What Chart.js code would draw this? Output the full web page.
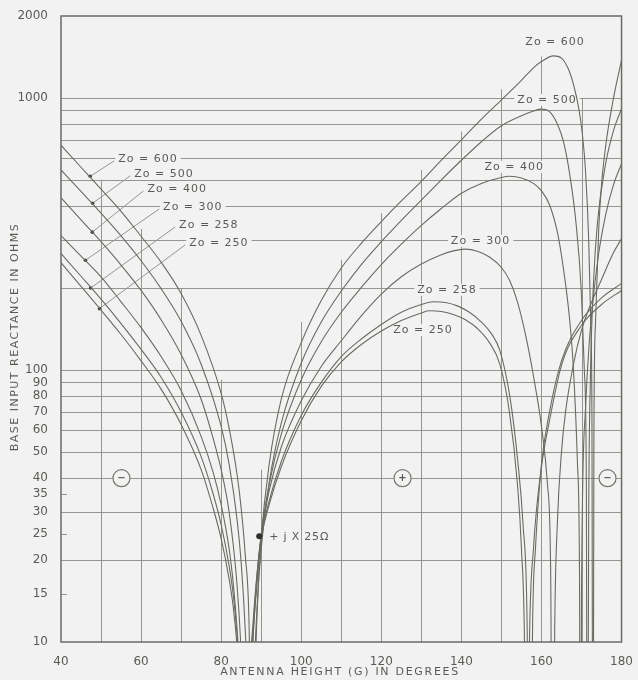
<!DOCTYPE html>
<html>
<head>
<meta charset="utf-8">
<script src="https://cdn.jsdelivr.net/npm/chart.js@4.4.0/dist/chart.umd.min.js"></script>
<style>
html, body { margin: 0; padding: 0; background: #f2f2f2; }
#wrap { width: 638px; height: 680px; }
</style>
</head>
<body>
<div id="wrap"><canvas id="chart-reactance" width="638" height="680"></canvas></div>
<script>
// antenna height G (degrees) and |base reactance| (ohms)
var g600 = [40,45,50,55,60,65,70,75,80,82,84,85,86,87,87.9,88.5,89,90,92,95,100,105,110,115,120,125,130,135,140,145,150,155,158,160,163,165,166.5,168,169.4,170.2,171,171.8,172.3,172.6,172.85,173.1,173.5,174.3,175,176,178,180];
var x600 = [670,556,462,383,310,249,191,134,82,61,41,31,21,11,1,7,13,24,45,78,126,180,237,292,351,418,493,590,701,835,983,1160,1290,1360,1427,1400,1300,1120,900,740,540,300,150,70,1,60,150,330,480,660,1000,1376];

var g500 = [40,45,50,55,60,65,70,75,80,82,84,85,86,86.5,87.35,88,89,90,92,95,100,105,110,115,120,125,130,135,140,145,150,155,158,160,162,164,165.5,167,168.6,169.9,170.7,171.2,171.45,171.8,172.2,173,174,176,178,180];
var x500 = [544,453,377,311,252,199,151,105,62,45,28,19.6,11.2,7.1,1,5.4,13.7,22,38.6,63.6,106,150,195,244,296,355,421,500,590,690,790,860,895,909,890,800,690,530,350,200,100,40,1,30,90,210,350,570,760,913];

var g400 = [40,45,50,55,60,65,70,75,78,80,82,84,85,86,86.5,87,88,89,90,92,95,100,105,110,115,120,125,130,135,140,145,150,152,155,158,160,162,164,165.5,167,168,169,169.5,169.75,170,171,172,174,176,178,180];
var x400 = [430,356,296,243,196,153,114,78,56,43,30,16,9,3,1,4,11,18,25,38,58,92,127,163,201,244,290,340,392,446,485,510,515,508,485,455,405,320,235,155,100,45,18,1,15,72,130,250,370,480,573];

var g300 = [40,45,50,55,60,65,70,75,78,80,82,83,84,85,86.2,87,88,89,90,92,95,100,105,110,115,120,125,130,135,138,141,144,147,150,152,154,156,158,160,161.5,162.3,162.8,163.3,164,165,166,168,170,172,175,178,180];
var x300 = [312,262,220,178,143,112,84,57,42,32,22,16.5,11,6,1,5,10.5,17,24.5,36,52,77,103,128,158,190,220,245,265,274,278,273,260,238,214,178,135,95,62,38,18,1,11,28,50,70,105,140,170,215,270,304];

var g258 = [40,45,50,55,60,65,70,75,78,80,82,83,84,85,85.8,86.5,87,88,89,90,92,95,100,105,110,115,120,125,130,133,136,139,142,145,147.5,149.6,152.1,154.1,155.4,156.4,157.1,157.8,158.5,160,162,165,170,175,180];
var x258 = [268,221,182,148,119,94,70,48,35,27,19,15,10.5,5.5,1,3.5,6,11,17,24,33,46,68,90,112,130,147,163,174,178,177,172,163,150,136,118,80,46,27,12,1,12,22,45,70,108,152,184,208];

var g250 = [40,45,50,55,60,65,70,75,78,80,82,83,84,85,85.7,86.3,87,88,89,90,92,95,100,105,110,115,120,125,130,132,135,138,141,144,147,149.6,152,154,155,155.8,156.3,157,158,160,162,165,170,175,180];
var x250 = [248,203,166,135,108,85,63,43,31,24,17,13.5,9.5,5,1,3,7,12,18,24,32,44,65,87,107,124,139,152,162,165,164,160,153,142,126,105,70,38,22,9,1,10,22,44,65,104,146,174,196];

// axis ticks and grid
var yTicks = [10,15,20,25,30,35,40,50,60,70,80,90,100,200,300,400,500,600,700,800,900,1000,2000];
var yTickLabels = [10,15,20,25,30,35,40,50,60,70,80,90,100,1000,2000];
var yGridLines = [20,30,40,50,60,70,80,90,100,200,300,400,500,600,700,800,900,1000];
var yShortTicks = [15,25,35];
var xGridLines = [50,60,70,80,90,100,110,120,130,140,150,160,170];
var xGridTops = [500,330,200,92,43,150,254,377,543,752,1076,1420,1000];

var paper = '#f2f2f2';
var ink = '#5b5b56';
var curveInk = '#6a6a63';
var gridInk = '#95958f';

function points(gs, xs) {
    return gs.map((g, i) => ({ x: g, y: xs[i] }));
}

function curve(label, gs, xs) {
    return {
        label: label,
        data: points(gs, xs),
        borderColor: curveInk,
        borderWidth: 1.1,
        pointRadius: 0,
        fill: false,
        cubicInterpolationMode: 'monotone'
    };
}

var paperPlugin = {
    id: 'paper',
    beforeDraw(chart) {
        var ctx = chart.ctx;
        ctx.save();
        ctx.fillStyle = paper;
        ctx.fillRect(0, 0, chart.width, chart.height);
        ctx.restore();
    },
    beforeDatasetsDraw(chart) {
        var ctx = chart.ctx, a = chart.chartArea;
        var sx = chart.scales.x, sy = chart.scales.y;
        var px = g => sx.getPixelForValue(g);
        var py = v => sy.getPixelForValue(v);
        ctx.save();

        // grid
        ctx.strokeStyle = gridInk;
        ctx.lineWidth = 1;
        ctx.beginPath();
        yGridLines.forEach(v => {
            var y = Math.round(py(v)) + 0.5;
            ctx.moveTo(a.left, y); ctx.lineTo(a.right, y);
        });
        yShortTicks.forEach(v => {
            var y = Math.round(py(v)) + 0.5;
            ctx.moveTo(a.left, y); ctx.lineTo(a.left + 6, y);
        });
        xGridLines.forEach((g, i) => {
            var x = Math.round(px(g)) + 0.5;
            ctx.moveTo(x, a.bottom); ctx.lineTo(x, py(xGridTops[i]));
        });
        ctx.stroke();

        // frame
        ctx.strokeStyle = '#6a6a64';
        ctx.lineWidth = 1.5;
        ctx.strokeRect(a.left, a.top, a.right - a.left, a.bottom - a.top);

        ctx.font = '11px "DejaVu Sans"';
        ctx.letterSpacing = '1px';
        ctx.textBaseline = 'middle';

        function boxText(t, x, y, align) {
            var w = ctx.measureText(t).width;
            var left = align === 'center' ? x - w / 2 : x;
            ctx.fillStyle = paper;
            ctx.fillRect(left - 3, y - 6, w + 6, 12);
            ctx.fillStyle = ink;
            ctx.textAlign = 'left';
            ctx.fillText(t, left, y);
        }

        // left labels with leaders
        var leftLabels = [
            ['Zo = 600', 54.3, 597, 47.3, 515],
            ['Zo = 500', 58.3, 526, 47.9, 410],
            ['Zo = 400', 61.6, 463, 47.8, 321],
            ['Zo = 300', 65.5, 397, 46.1, 253],
            ['Zo = 258', 69.5, 341, 47.4, 200],
            ['Zo = 250', 72.0, 293, 49.6, 168]
        ];
        leftLabels.forEach(l => {
            var tx = px(l[1]), ty = py(l[2]);
            ctx.strokeStyle = gridInk;
            ctx.lineWidth = 1;
            ctx.beginPath();
            ctx.moveTo(px(l[3]), py(l[4]));
            ctx.lineTo(tx - 4, ty + 2);
            ctx.stroke();
            boxText(l[0], tx, ty, 'left');
            ctx.fillStyle = '#444440';
            ctx.beginPath();
            ctx.arc(px(l[3]), py(l[4]), 1.8, 0, Math.PI * 2);
            ctx.fill();
        });

        // labels at the peaks
        [
            ['Zo = 600', 163.4, 1607],
            ['Zo = 500', 161.4, 983],
            ['Zo = 400', 153.2, 558],
            ['Zo = 300', 144.8, 298],
            ['Zo = 258', 136.4, 197],
            ['Zo = 250', 130.4, 140]
        ].forEach(l => boxText(l[0], px(l[1]), py(l[2]), 'center'));

        // sign circles
        [['\u2212', 55.1], ['+', 125.3], ['\u2212', 176.5]].forEach(c => {
            var x = px(c[1]), y = py(40);
            ctx.fillStyle = paper;
            ctx.strokeStyle = '#77776f';
            ctx.lineWidth = 1.2;
            ctx.beginPath();
            ctx.arc(x, y, 8.5, 0, Math.PI * 2);
            ctx.fill();
            ctx.stroke();
            ctx.fillStyle = ink;
            ctx.letterSpacing = '0px';
            ctx.textAlign = 'center';
            ctx.font = 'bold 10px "DejaVu Sans"';
            ctx.fillText(c[0], x, y);
            ctx.font = '11px "DejaVu Sans"';
            ctx.letterSpacing = '1px';
        });

        ctx.restore();
    },
    afterDatasetsDraw(chart) {
        var ctx = chart.ctx;
        var sx = chart.scales.x, sy = chart.scales.y;
        ctx.save();
        // +jX 25 ohm marker
        var mx = sx.getPixelForValue(89.5), my = sy.getPixelForValue(24.5);
        ctx.fillStyle = '#2e2e2b';
        ctx.beginPath();
        ctx.arc(mx, my, 3, 0, Math.PI * 2);
        ctx.fill();
        ctx.font = '11px "DejaVu Sans"';
        ctx.letterSpacing = '0.8px';
        ctx.textBaseline = 'middle';
        ctx.fillStyle = ink;
        ctx.fillText('+ j X 25\u03A9', mx + 10, my + 1);

        // axis titles
        ctx.font = '11px "DejaVu Sans"';
        ctx.letterSpacing = '1.7px';
        ctx.textAlign = 'center';
        ctx.fillText('ANTENNA HEIGHT (G) IN DEGREES', 340, 672);
        ctx.translate(15, 337);
        ctx.rotate(-Math.PI / 2);
        ctx.letterSpacing = '1.5px';
        ctx.fillText('BASE INPUT REACTANCE IN OHMS', 0, 0);
        ctx.restore();
    }
};

var canvasReactance = document.getElementById('chart-reactance');

var chartReactance = new Chart(canvasReactance.getContext('2d'), {
    type: 'line',
    data: {
        datasets: [
            curve('Zo = 600', g600, x600),
            curve('Zo = 500', g500, x500),
            curve('Zo = 400', g400, x400),
            curve('Zo = 300', g300, x300),
            curve('Zo = 258', g258, x258),
            curve('Zo = 250', g250, x250)
        ]
    },
    options: {
        responsive: false,
        devicePixelRatio: 1,
        animation: false,
        layout: { padding: { left: 0, right: 12, top: 16, bottom: 0 } },
        plugins: {
            legend: { display: false },
            title: { display: false },
            tooltip: { enabled: false }
        },
        scales: {
            x: {
                type: 'linear',
                min: 40,
                max: 180,
                grid: { display: false },
                border: { display: false },
                ticks: {
                    stepSize: 20,
                    padding: 5,
                    color: ink,
                    font: { family: "'DejaVu Sans', sans-serif", size: 12 }
                },
                afterFit: s => { s.height = 38; }
            },
            y: {
                type: 'logarithmic',
                min: 10,
                max: 2000,
                grid: { display: false },
                border: { display: false },
                afterBuildTicks: s => { s.ticks = yTicks.map(v => ({ value: v })); },
                ticks: {
                    autoSkip: false,
                    padding: 5,
                    color: ink,
                    font: { family: "'DejaVu Sans', sans-serif", size: 12 },
                    callback: v => yTickLabels.indexOf(v) >= 0 ? String(v) : ''
                },
                afterFit: s => { s.width = 61; }
            }
        }
    },
    plugins: [paperPlugin]
});
</script>
</body>
</html>
